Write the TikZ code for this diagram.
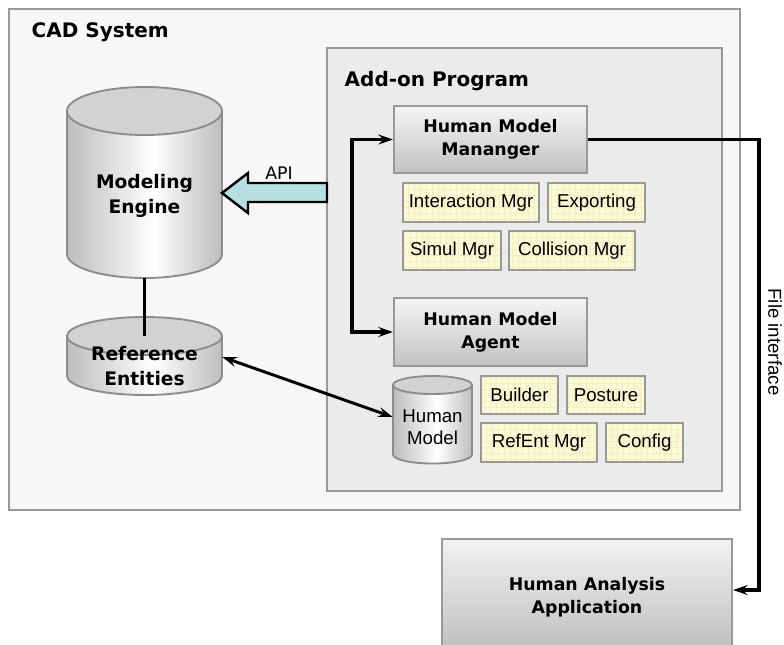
\documentclass[tikz,border=0pt]{standalone}
\usepackage{fontspec}
\setmainfont{Liberation Sans}
\newfontfamily\headfont{DejaVu Sans}
\usetikzlibrary{arrows.meta,calc}

\definecolor{framegray}{HTML}{999999}
\definecolor{outerfill}{HTML}{F7F7F7}
\definecolor{innerfill}{HTML}{EBEBEB}
\definecolor{cylgray}{HTML}{BDBDBD}
\definecolor{cyltop}{HTML}{D2D2D2}
\definecolor{cylline}{HTML}{8C8C8C}
\definecolor{notefill}{HTML}{FAFAD6}
\definecolor{notegrid}{HTML}{EFEFC4}
\definecolor{apifill}{HTML}{B5DFE0}

% side-lit barrel: grey edges, bright band just right of the middle
\pgfdeclarehorizontalshading{barrel}{100bp}{%
  color(0bp)=(cylgray); color(25bp)=(cylgray); color(53bp)=(white);
  color(75bp)=(cylgray); color(100bp)=(cylgray)}

\tikzset{
  x=0.75pt, y=-0.75pt,
  frame/.style={draw=framegray, line width=1.6pt},
  boldlabel/.style={font=\headfont\bfseries\fontsize{13}{17}\selectfont, align=center},
  bigbold/.style={font=\headfont\bfseries\fontsize{14}{19}\selectfont, align=center},
  plainlabel/.style={font=\fontsize{14}{18}\selectfont, align=center},
  modulebox/.style={draw=framegray, line width=1.6pt, top color=white!96!black,
    bottom color=white!76!black, inner sep=0pt, boldlabel},
  note/.style={draw=framegray, line width=1.6pt, fill=notefill, inner sep=0pt,
    font=\fontsize{14}{16}\selectfont,
    path picture={\draw[notegrid, line width=0.4pt]
      (path picture bounding box.north west) grid[step=4.5pt]
      (path picture bounding box.south east);}},
  link/.style={black, line width=2.4pt},
  barb/.tip={Stealth[length=11pt, width=7.5pt, inset=4pt]},
  tip/.style={-barb},
  twotips/.style={barb-barb},
}

% \barrel{name}{x left}{x right}{y top centre}{y bottom centre}{y radius}
\newcommand{\barrel}[6]{%
  \path[draw=cylline, line width=1.4pt, shading=barrel]
    (#2,#4) -- (#2,#5) arc[start angle=180, end angle=0, x radius={(#3-#2)/2}, y radius=#6]
    -- (#3,#4) -- cycle;
  \path[draw=cylline, line width=1.4pt, fill=cyltop]
    ({(#2+#3)/2},#4) ellipse[x radius={(#3-#2)/2}, y radius=#6];
  \node[inner sep=0pt, minimum width={(#3-#2)*0.75pt}, minimum height={(#5-#4+2*#6)*0.75pt}]
    (#1) at ({(#2+#3)/2},{(#4+#5)/2}) {};
}

\begin{document}
\begin{tikzpicture}
\clip (0,0) rectangle (784,644);
\useasboundingbox (0,0) rectangle (784,644);
\fill[white] (0,0) rectangle (784,644);

% containers
\draw[frame, fill=outerfill] (9,9) rectangle (740,510);
\node[anchor=base west, font=\headfont\bfseries\fontsize{15}{18}\selectfont] (cadtitle) at (27,37) {CAD System};
\draw[frame, fill=innerfill] (327,48) rectangle (722,491);
\node[anchor=base west, font=\headfont\bfseries\fontsize{15}{18}\selectfont] (addtitle) at (340,86) {Add-on Program};

% storage in the CAD system
\barrel{engine}{67}{222}{111}{254}{24}
\node[bigbold] (enginetext) at (144.5,196) {Modeling\\Engine};
\barrel{refent}{67}{222}{336}{376}{19}
\node[bigbold] (refenttext) at (144.5,366) {Reference\\Entities};
\draw[link, line width=2pt] (engine.south) -- (144.5,336);

% API block arrow into the modeling engine
\draw[black, line width=1.8pt, fill=apifill, line join=miter]
  (327,183) -- (248,183) -- (248,173) -- (222,193) -- (248,213) -- (248,202) -- (327,202) -- cycle;
\node[anchor=base, font=\headfont\fontsize{13}{15}\selectfont] (apilabel) at (279,179) {API};

% add-on modules
\node[modulebox, minimum width=193*0.75pt, minimum height=67*0.75pt] (hmm) at (490.5,139.5) {Human Model\\Mananger};
\node[modulebox, minimum width=193*0.75pt, minimum height=68*0.75pt] (hma) at (490.5,332) {Human Model\\Agent};

\node[note, minimum width=136*0.75pt, minimum height=39*0.75pt] (inter) at (471,202.5) {Interaction Mgr};
\node[note, minimum width=97*0.75pt,  minimum height=39*0.75pt] (export) at (596.5,202.5) {Exporting};
\node[note, minimum width=98*0.75pt,  minimum height=39*0.75pt] (simul) at (452,250.5) {Simul Mgr};
\node[note, minimum width=126*0.75pt, minimum height=39*0.75pt] (collide) at (572,250.5) {Collision Mgr};

\barrel{human}{393}{472}{385}{454.5}{9}
\node[plainlabel, font=\fontsize{14}{17}\selectfont] (humantext) at (432.5,427) {Human\\Model};

\node[note, minimum width=77*0.75pt, minimum height=38*0.75pt] (builder) at (519.5,395) {Builder};
\node[note, minimum width=78*0.75pt, minimum height=38*0.75pt] (posture) at (606,395) {Posture};
\node[note, minimum width=116*0.75pt, minimum height=39*0.75pt] (refmgr) at (539,442.5) {RefEnt Mgr};
\node[note, minimum width=77*0.75pt, minimum height=39*0.75pt] (config) at (644.5,442.5) {Config};

% external application
\node[draw=framegray, line width=1.6pt, top color=white!95!black, bottom color=white!74!black,
  minimum width=290*0.75pt, minimum height=116*0.75pt, inner sep=0pt, boldlabel]
  (haa) at (587,597) {Human Analysis\\Application};

% connectors
\draw[link, twotips] (hmm.west) -- ++(-41,0) |- (hma.west);
\draw[link, line width=2.2pt, twotips] (refent.east |- 0,357) -- (human.west |- 0,417);
\draw[link, tip] (hmm.east) -- (759,139.5) |- ([yshift=5.25pt]haa.east);
\node[rotate=-90, font=\fontsize{14}{16}\selectfont] (filelabel) at (775,342) {File interface};
\end{tikzpicture}
\end{document}
